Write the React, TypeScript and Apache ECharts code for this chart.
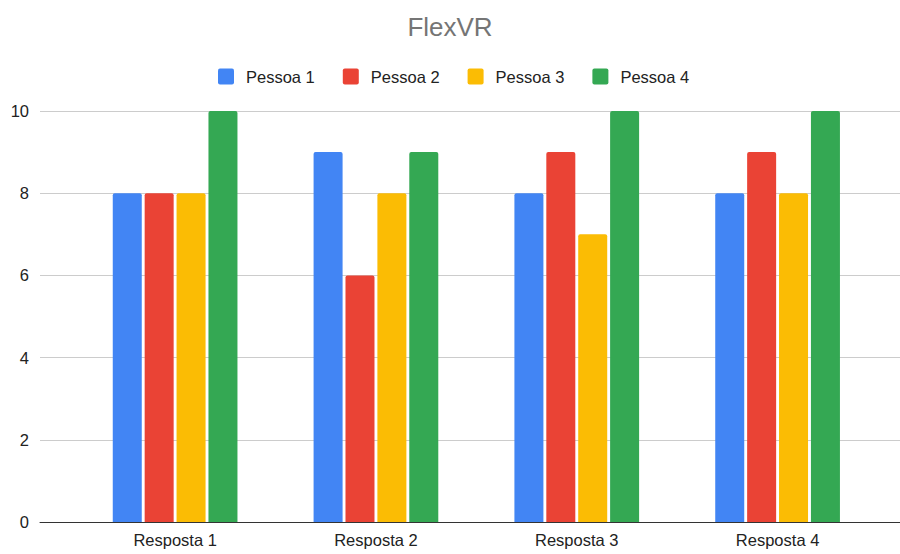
import React, { useEffect, useRef } from "react";
import * as echarts from "echarts";

const categories = ["Resposta 1", "Resposta 2", "Resposta 3", "Resposta 4"];
const seriesNames = ["Pessoa 1", "Pessoa 2", "Pessoa 3", "Pessoa 4"];
const pessoa1 = [8, 9, 8, 8];
const pessoa2 = [8, 6, 9, 9];
const pessoa3 = [8, 8, 7, 8];
const pessoa4 = [10, 9, 10, 10];
const seriesValues = [pessoa1, pessoa2, pessoa3, pessoa4];
const colors = ["#4285F4", "#EA4335", "#FBBC04", "#34A853"];
const yMin = 0;
const yMax = 10;
const yInterval = 2;

const FONT = "Arial, 'Liberation Sans', sans-serif";
const LEGEND_ICON =
  "path://M2,0 H14 A2,2 0 0 1 16,2 V14 A2,2 0 0 1 14,16 H2 A2,2 0 0 1 0,14 V2 A2,2 0 0 1 2,0 Z";

export default function App() {
  const ref = useRef<HTMLDivElement>(null);
  useEffect(() => {
    if (!ref.current) return;
    const chart = echarts.init(ref.current, undefined, { renderer: "svg" });
    chart.setOption({
      animation: false,
      backgroundColor: "#ffffff",
      title: {
        text: "FlexVR",
        left: "center",
        top: 9,
        textStyle: { fontFamily: FONT, fontSize: 26, fontWeight: "normal", color: "#757575" },
      },
      legend: {
        data: seriesNames,
        left: 213,
        top: 63,
        itemWidth: 16,
        itemHeight: 16,
        itemGap: 28,
        icon: LEGEND_ICON,
        textStyle: { fontFamily: FONT, fontSize: 16.5, color: "#222222", padding: [0, 0, 0, 7] },
      },
      grid: [
        { left: 74.7, right: 22, top: 111, bottom: 32 },
        { left: 40, right: 0, top: 111, bottom: 32 },
      ],
      xAxis: [
        {
          type: "category",
          gridIndex: 0,
          data: categories,
          axisLine: { show: false },
          axisTick: { show: false },
          axisLabel: { fontFamily: FONT, fontSize: 16.5, color: "#222222", margin: 9 },
        },
        {
          type: "value",
          gridIndex: 1,
          min: 0,
          max: 1,
          axisLine: { show: true, lineStyle: { color: "#333333", width: 1 } },
          axisTick: { show: false },
          axisLabel: { show: false },
          splitLine: { show: false },
        },
      ],
      yAxis: [
        { type: "value", gridIndex: 0, min: yMin, max: yMax, interval: yInterval, show: false },
        {
          type: "value",
          gridIndex: 1,
          min: yMin,
          max: yMax,
          interval: yInterval,
          axisLine: { show: false },
          axisTick: { show: false },
          axisLabel: { fontFamily: FONT, fontSize: 16.5, color: "#222222", margin: 11 },
          splitLine: { show: true, lineStyle: { color: "#cccccc", width: 1 } },
        },
      ],
      series: seriesNames.map((name, i) => ({
        name,
        type: "bar",
        xAxisIndex: 0,
        yAxisIndex: 0,
        data: seriesValues[i],
        barWidth: 29,
        barGap: "10%",
        itemStyle: { color: colors[i], borderRadius: [2, 2, 0, 0] },
      })),
      color: colors,
    });
    return () => chart.dispose();
  }, []);
  return (
    <div
      ref={ref}
      style={{ position: "fixed", left: 0, top: 0, width: 900, height: 554 }}
    />
  );
}
